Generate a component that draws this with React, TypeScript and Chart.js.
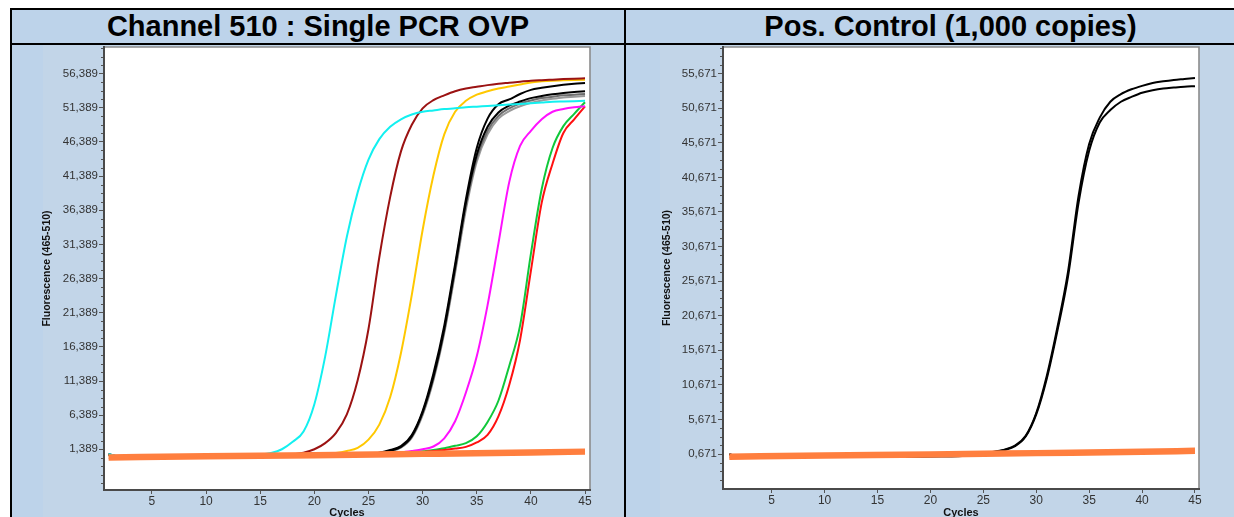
import React, { useEffect, useRef } from "react";
import { Chart, registerables } from "chart.js";

Chart.register(...registerables);

const FONT = "'Liberation Sans', Arial, sans-serif";

const cycles = [
  1, 2, 3, 4, 5, 6, 7, 8, 9, 10, 11, 12, 13, 14, 15, 16, 17, 18, 19, 20, 21, 22, 23,
  24, 25, 26, 27, 28, 29, 30, 31, 32, 33, 34, 35, 36, 37, 38, 39, 40, 41, 42, 43, 44, 45,
];

const xTicks = [5, 10, 15, 20, 25, 30, 35, 40, 45];
const leftYTicks = [1389, 6389, 11389, 16389, 21389, 26389, 31389, 36389, 41389, 46389, 51389, 56389];
const rightYTicks = [671, 5671, 10671, 15671, 20671, 25671, 30671, 35671, 40671, 45671, 50671, 55671];
const minorStep = 1250;

// ---- Left chart: Channel 510 : Single PCR OVP ----
const cyan = [
  700, 320, 300, 300, 310, 320, 330, 340, 350, 370, 390, 410, 440, 480,
  600, 850, 1400, 2500, 4000, 8000, 15000, 24000, 32500, 39000, 43800, 46800, 48600, 49700, 50400, 50800,
  51000, 51200, 51300, 51450, 51550, 51650, 51750, 51850, 51950, 52050, 52150, 52250, 52300, 52350, 52400,
];
const darkRed = [
  650, 300, 290, 290, 300, 310, 320, 330, 340, 360, 380, 400, 420, 440, 460, 480, 530,
  650, 900, 1400, 2300, 3800, 6500, 11500, 19000, 29500, 38300, 45000, 48900, 51300,
  52500, 53200, 53800, 54200, 54450, 54700, 54900, 55050, 55200, 55330, 55420, 55500, 55580, 55650, 55700,
];
const yellow = [
  600, 280, 270, 270, 280, 290, 300, 310, 320, 340, 360, 380, 400, 420, 440, 460, 480, 500, 530, 580,
  700, 850, 1150, 1600, 2800, 5000, 9000, 15500, 24000, 33500,
  41500, 47500, 50800, 52400, 53300, 53800, 54200, 54500, 54800, 55100, 55250, 55350, 55400, 55450, 55500,
];
const black1 = [
  700, 250, 230, 230, 240, 250, 260, 270, 280, 290, 300, 310, 320, 330, 340, 350, 370, 390, 410, 430,
  460, 490, 530, 580, 640, 900, 1300, 1850, 3500, 7000,
  12500, 19500, 28500, 38000, 45500, 49800, 51900, 52600, 53400, 54000, 54300, 54550, 54750, 54900, 55000,
];
const black2 = [
  650, 230, 220, 220, 230, 240, 250, 260, 270, 280, 290, 300, 310, 320, 330, 340, 360, 380, 400, 420,
  450, 480, 520, 570, 630, 850, 1200, 1750, 3300, 6800,
  12000, 19000, 28000, 37500, 44500, 48600, 50700, 51700, 52300, 52800, 53100, 53350, 53550, 53700, 53800,
];
const gray1 = [
  620, 240, 230, 230, 240, 250, 260, 270, 280, 290, 300, 310, 320, 330, 340, 350, 370, 390, 410, 430,
  460, 490, 520, 560, 620, 820, 1150, 1700, 3200, 6600,
  11800, 18700, 27600, 37000, 44000, 48000, 50200, 51300, 52000, 52450, 52800, 53000, 53200, 53300, 53400,
];
const gray2 = [
  600, 260, 250, 250, 260, 270, 280, 290, 300, 310, 320, 330, 340, 350, 360, 370, 390, 410, 430, 440,
  460, 490, 520, 560, 610, 800, 1100, 1650, 3100, 6400,
  11500, 18400, 27200, 36500, 43500, 47500, 49800, 50900, 51600, 52100, 52450, 52700, 52900, 53000, 53100,
];
const magenta = [
  650, 280, 270, 270, 280, 290, 300, 310, 320, 340, 360, 380, 400, 420, 440, 460, 480, 500, 520, 540,
  560, 590, 620, 660, 700, 760, 850,
  950, 1150, 1400, 1800, 3000, 5500, 9700, 15000, 22500, 31500, 40500, 45800, 48000, 49700, 50800, 51200, 51450, 51600,
];
const green = [
  650, 290, 280, 280, 290, 300, 310, 320, 330, 350, 370, 390, 410, 430, 450, 470, 490, 510, 530, 560,
  590, 620, 660, 700, 750, 800, 860, 930, 1000,
  1100, 1300, 1550, 1900, 2300, 3300, 5400, 8500, 13600, 19500, 30000, 39500, 45500, 48700, 50500, 52200,
];
const red = [
  600, 260, 250, 250, 260, 270, 280, 290, 300, 320, 340, 360, 380, 400, 420, 440, 460, 480, 500, 530,
  560, 590, 630, 670, 720, 770, 830, 890, 950,
  1000, 1150, 1300, 1500, 1750, 2400, 3500, 6200, 10800, 17400, 27500, 37500, 43200, 47700, 49700, 51600,
];

const orangeX = [1, 10, 20, 30, 40, 45];
const leftOrangeHi = [450, 630, 770, 970, 1180, 1300];
const leftOrangeMid = [200, 380, 520, 720, 930, 1050];
const leftOrangeLo = [-50, 130, 270, 470, 680, 800];

// ---- Right chart: Pos. Control (1,000 copies) ----
const posUpper = [
  650, 300, 280, 280, 285, 290, 290, 295, 300, 300, 305, 305, 310, 310, 315, 315, 320, 320, 325, 330,
  340, 360, 420, 560, 760, 1000, 1300, 1900,
  3300, 6600, 12000, 19000, 27000, 38000, 45500, 49300, 51600, 52700, 53400, 53900, 54300, 54550, 54750, 54900, 55050,
];
const posLower = [
  620, 280, 270, 270, 275, 280, 285, 290, 295, 300, 300, 305, 305, 310, 310, 315, 315, 320, 320, 325,
  335, 350, 400, 530, 720, 950, 1250, 1800,
  3200, 6400, 11600, 18500, 26300, 37000, 44500, 48600, 50400, 51600, 52300, 52900, 53250, 53500, 53650, 53780, 53850,
];
const rightOrangeHi = [540, 700, 850, 1050, 1250, 1380];
const rightOrangeMid = [290, 450, 600, 800, 1000, 1130];
const rightOrangeLo = [40, 200, 350, 550, 750, 880];

const ORANGE = "#ff7f3f";

function fmtTick(v: number): string {
  const th = Math.floor(v / 1000);
  const rest = String(Math.round(v - th * 1000)).padStart(3, "0");
  return th + "," + rest;
}

function minorValues(majors: number[], min: number, max: number): number[] {
  const out: number[] = [];
  const start = majors[0];
  for (let v = start - minorStep; v >= min; v -= minorStep) out.push(v);
  for (let v = start; v <= max; v += minorStep) {
    if (!majors.includes(v)) out.push(v);
  }
  return out;
}

const framePlugin = {
  id: "frame",
  beforeDraw(chart: any) {
    const { ctx, chartArea: a } = chart;
    ctx.save();
    ctx.fillStyle = "#ffffff";
    ctx.fillRect(a.left, a.top, a.right - a.left, a.bottom - a.top);
    ctx.restore();
  },
  afterDraw(chart: any, _args: any, opts: any) {
    const { ctx, chartArea: a } = chart;
    const ys = chart.scales.y;
    ctx.save();
    ctx.strokeStyle = "#555555";
    ctx.lineWidth = 1;
    for (const v of opts.minor as number[]) {
      const p = Math.round(ys.getPixelForValue(v)) + 0.5;
      if (p < a.top || p > a.bottom) continue;
      ctx.beginPath();
      ctx.moveTo(a.left - 3, p);
      ctx.lineTo(a.left, p);
      ctx.stroke();
    }
    ctx.strokeStyle = "#8c8c8c";
    ctx.lineWidth = 1.6;
    ctx.beginPath();
    ctx.moveTo(a.left, a.top);
    ctx.lineTo(a.right, a.top);
    ctx.lineTo(a.right, a.bottom);
    ctx.stroke();
    ctx.strokeStyle = "#4a4a4a";
    ctx.lineWidth = 2;
    ctx.beginPath();
    ctx.moveTo(a.left, a.top - 1);
    ctx.lineTo(a.left, a.bottom);
    ctx.lineTo(a.right + 1, a.bottom);
    ctx.stroke();
    ctx.restore();
  },
};

type Line = { ys: number[]; xs: number[]; color: string; width: number };

type PanelCfg = {
  left: number;
  top: number;
  w: number;
  h: number;
  xMin: number;
  xMax: number;
  yMin: number;
  yMax: number;
  yTicks: number[];
  yAxisWidth: number;
  xAxisHeight: number;
  padRight: number;
  padTop: number;
  yTitlePad: number;
  lines: Line[];
};

function buildConfig(c: PanelCfg): any {
  return {
    type: "line",
    data: {
      datasets: c.lines.map((l) => ({
        data: l.ys.map((v, i) => ({ x: l.xs[i], y: v })),
        borderColor: l.color,
        backgroundColor: l.color,
        borderWidth: l.width,
        pointRadius: 0,
        cubicInterpolationMode: "monotone",
        fill: false,
        borderJoinStyle: "round",
      })),
    },
    options: {
      responsive: false,
      animation: false,
      events: [],
      layout: { padding: { left: 0, right: c.padRight, top: c.padTop, bottom: 0 } },
      plugins: {
        legend: { display: false },
        tooltip: { enabled: false },
        frame: { minor: minorValues(c.yTicks, c.yMin, c.yMax) },
      },
      scales: {
        x: {
          type: "linear",
          min: c.xMin,
          max: c.xMax,
          afterBuildTicks: (s: any) => {
            s.ticks = xTicks.map((v) => ({ value: v }));
          },
          afterFit: (s: any) => {
            s.height = c.xAxisHeight;
            s.paddingLeft = 0;
            s.paddingRight = 0;
            s.paddingTop = 0;
            s.paddingBottom = 0;
          },
          grid: { display: true, drawOnChartArea: false, drawTicks: true, tickLength: 4, color: "#555555" },
          border: { display: false },
          ticks: {
            color: "#333333",
            font: { family: FONT, size: 12 },
            padding: 0,
            autoSkip: false,
            maxRotation: 0,
            callback: (v: number) => String(v),
          },
          title: {
            display: true,
            text: "Cycles",
            color: "#111111",
            font: { family: FONT, size: 11, weight: "bold" },
            padding: { top: 0, bottom: 15 },
          },
        },
        y: {
          type: "linear",
          min: c.yMin,
          max: c.yMax,
          afterBuildTicks: (s: any) => {
            s.ticks = c.yTicks.map((v) => ({ value: v }));
          },
          afterFit: (s: any) => {
            s.width = c.yAxisWidth;
            s.paddingTop = 0;
            s.paddingBottom = 0;
            s.paddingLeft = 0;
            s.paddingRight = 0;
          },
          grid: { display: true, drawOnChartArea: false, drawTicks: true, tickLength: 5, color: "#555555" },
          border: { display: false },
          ticks: {
            color: "#333333",
            font: { family: FONT, size: 11.5 },
            padding: 1,
            autoSkip: false,
            callback: (v: number) => fmtTick(v),
          },
          title: {
            display: true,
            text: "Fluorescence (465-510)",
            color: "#111111",
            font: { family: FONT, size: 10.5, weight: "bold" },
            padding: { top: c.yTitlePad, bottom: 0 },
          },
        },
      },
    },
    plugins: [framePlugin],
  };
}

function Panel({ cfg }: { cfg: PanelCfg }) {
  const ref = useRef<HTMLCanvasElement>(null);
  useEffect(() => {
    const chart = new Chart(ref.current as HTMLCanvasElement, buildConfig(cfg));
    return () => chart.destroy();
  }, []);
  return (
    <canvas
      ref={ref}
      width={cfg.w}
      height={cfg.h}
      style={{ position: "absolute", left: cfg.left, top: cfg.top, width: cfg.w, height: cfg.h }}
    />
  );
}

const leftLines: Line[] = [
  { ys: leftOrangeHi, xs: orangeX, color: ORANGE, width: 3 },
  { ys: leftOrangeMid, xs: orangeX, color: ORANGE, width: 3 },
  { ys: leftOrangeLo, xs: orangeX, color: ORANGE, width: 3 },
  { ys: cyan, xs: cycles, color: "#12f0f0", width: 2 },
  { ys: darkRed, xs: cycles, color: "#9b1212", width: 2 },
  { ys: yellow, xs: cycles, color: "#ffc800", width: 2 },
  { ys: black1, xs: cycles, color: "#000000", width: 2 },
  { ys: black2, xs: cycles, color: "#000000", width: 2 },
  { ys: gray1, xs: cycles, color: "#6e6e6e", width: 2 },
  { ys: gray2, xs: cycles, color: "#9a9a9a", width: 2 },
  { ys: magenta, xs: cycles, color: "#ff10ff", width: 2 },
  { ys: red, xs: cycles, color: "#ff1010", width: 2 },
  { ys: green, xs: cycles, color: "#10c83a", width: 2 },
];

const rightLines: Line[] = [
  { ys: rightOrangeHi, xs: orangeX, color: ORANGE, width: 3 },
  { ys: rightOrangeMid, xs: orangeX, color: ORANGE, width: 3 },
  { ys: rightOrangeLo, xs: orangeX, color: ORANGE, width: 3 },
  { ys: posUpper, xs: cycles, color: "#000000", width: 2 },
  { ys: posLower, xs: cycles, color: "#000000", width: 2 },
];

const leftCfg: PanelCfg = {
  left: 12,
  top: 45,
  w: 612,
  h: 490,
  xMin: 0.57,
  xMax: 45.46,
  yMin: -4565,
  yMax: 60280,
  yTicks: leftYTicks,
  yAxisWidth: 92,
  xAxisHeight: 45,
  padRight: 34,
  padTop: 2,
  yTitlePad: 28.7,
  lines: leftLines,
};

const rightCfg: PanelCfg = {
  left: 626,
  top: 45,
  w: 608,
  h: 490,
  xMin: 0.4,
  xMax: 45.38,
  yMin: -4387,
  yMax: 59515,
  yTicks: rightYTicks,
  yAxisWidth: 97,
  xAxisHeight: 46,
  padRight: 35,
  padTop: 2,
  yTitlePad: 34.4,
  lines: rightLines,
};

const CELL = "#bdd3ea";
const IMG = "#c2d5e8";

function box(left: number, top: number, width: number, height: number, bg: string): React.CSSProperties {
  return { position: "absolute", left, top, width, height, background: bg };
}

const titleStyle: React.CSSProperties = {
  position: "absolute",
  top: 12,
  height: 30,
  fontFamily: FONT,
  fontWeight: "bold",
  fontSize: 29,
  lineHeight: "29px",
  color: "#000",
  textAlign: "center",
  whiteSpace: "nowrap",
};

export default function App() {
  return (
    <div
      style={{
        position: "fixed",
        left: 0,
        top: 0,
        width: 1234,
        height: 517,
        overflow: "hidden",
        background: "#ffffff",
      }}
    >
      <div style={box(12, 10, 612, 33, CELL)} />
      <div style={box(626, 10, 700, 33, CELL)} />
      <div style={box(12, 45, 612, 520, CELL)} />
      <div style={box(43, 45, 581, 520, IMG)} />
      <div style={box(626, 45, 700, 520, CELL)} />
      <div style={box(660, 45, 700, 520, IMG)} />
      <div style={box(10, 8, 1400, 2, "#000")} />
      <div style={box(10, 8, 2, 600, "#000")} />
      <div style={box(10, 43, 1400, 2, "#000")} />
      <div style={box(624, 8, 2, 600, "#000")} />
      <div style={{ ...titleStyle, left: 12, width: 612 }}>Channel 510 : Single PCR OVP</div>
      <div style={{ ...titleStyle, left: 626, width: 649 }}>Pos. Control (1,000 copies)</div>
      <Panel cfg={leftCfg} />
      <Panel cfg={rightCfg} />
    </div>
  );
}
